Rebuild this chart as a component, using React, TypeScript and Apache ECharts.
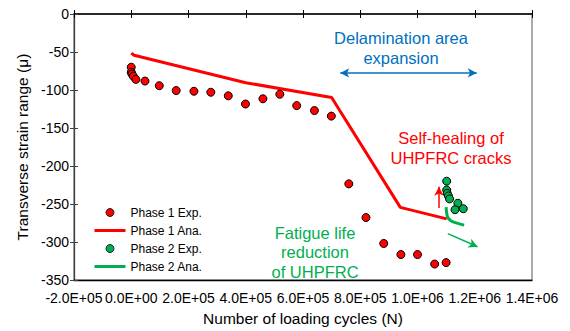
import React, { useEffect, useRef } from "react";
import * as echarts from "echarts";

const phase1ExpX = [0, 0, 2500, 7000, 16000, 48000, 98000, 157000, 219000, 278000, 339000, 399000, 460000, 519000, 578000, 640000, 699000, 760000, 820000, 882000, 942000, 1000000, 1060000, 1100000];
const phase1ExpY = [-70, -76.6, -78.8, -81.8, -86, -88.2, -94.3, -100.7, -101.6, -102.9, -107.6, -118.4, -111.5, -105.5, -120.5, -127, -134.3, -223.4, -267.7, -301.8, -316.4, -316.4, -328.9, -327];

const phase1AnaX = [0, 10000, 400000, 700000, 940000, 1102000];
const phase1AnaY = [-51.5, -54.2, -90.4, -109.8, -254.4, -269.5];

const phase2ExpX = [1102000, 1102000, 1104000, 1108000, 1112000, 1141000, 1160000, 1131000];
const phase2ExpY = [-219.9, -231.5, -235.9, -239.3, -243.2, -248.9, -256.1, -257.4];

const phase2AnaX = [1100000, 1104000, 1112000, 1122000, 1163000];
const phase2AnaY = [-254, -266, -270.5, -273, -277.7];

const xTicks = { min: -200000, max: 1400000, interval: 200000 };
const yTicks = { min: -350, max: 0, interval: 50 };

// annotation arrows (data coordinates)
const delamArrow = [[730000, -77.5], [1207000, -77.5]];
const healArrow = [[1075000, -255.3], [1075000, -227.3]];
const fatigueArrow = [[1106000, -288.9], [1210000, -306.1]];

const RED = "#FF0000";
const GREEN = "#00B050";
const BLUE = "#0070C0";
const FONT = "Liberation Sans, Arial, sans-serif";

const zip = (xs: number[], ys: number[]) => xs.map((x, i) => [x, ys[i]]);

const fmtSci = (v: number) => {
  const s = v.toExponential(1).toUpperCase();
  const m = s.match(/^(-?[\d.]+)E([+-])(\d+)$/);
  if (!m) return s;
  return `${m[1]}E${m[2]}${m[3].padStart(2, "0")}`;
};

const arrowLine = (pts: number[][], color: string, syms: string[]) => ({
  silent: true,
  symbol: syms,
  symbolSize: [7, 9],
  label: { show: false },
  lineStyle: { color, width: 1.5, type: "solid" },
  emphasis: { disabled: true },
  data: [[{ coord: pts[0] }, { coord: pts[1] }]],
});

const hiddenSymbol = { opacity: 0, borderWidth: 0, color: "rgba(0,0,0,0)", borderColor: "rgba(0,0,0,0)" };

export default function App() {
  const ref = useRef<HTMLDivElement>(null);
  useEffect(() => {
    if (!ref.current) return;
    const chart = echarts.init(ref.current, null, { renderer: "svg" });
    const baseX = {
      type: "value",
      min: xTicks.min,
      max: xTicks.max,
      interval: xTicks.interval,
      splitLine: { show: false },
    };
    const baseY = {
      type: "value",
      min: yTicks.min,
      max: yTicks.max,
      interval: yTicks.interval,
      splitLine: { show: false },
    };
    chart.setOption({
      animation: false,
      textStyle: { fontFamily: FONT },
      grid: {
        left: 74,
        top: 14,
        width: 458,
        height: 271,
        show: true,
        borderColor: "#555",
        borderWidth: 1,
      },
      xAxis: [
        {
          ...baseX,
          position: "bottom",
          axisLine: { show: true, onZero: false, lineStyle: { color: "#000", width: 1.3 } },
          axisTick: { show: false },
          axisLabel: { formatter: fmtSci, fontSize: 14, color: "#000", margin: 11, fontFamily: FONT },
          name: "Number of loading cycles (N)",
          nameLocation: "middle",
          nameGap: 29,
          nameTextStyle: { fontSize: 15.5, color: "#000", fontFamily: FONT },
        },
        {
          ...baseX,
          position: "top",
          axisLine: { show: true, onZero: false, lineStyle: { color: "#000", width: 1.6 } },
          axisTick: { show: true, inside: false, length: 4, lineStyle: { color: "#000", width: 1 } },
          axisLabel: { show: false },
        },
        {
          ...baseX,
          position: "top",
          axisLine: { show: false, onZero: false },
          axisTick: { show: true, inside: true, length: 4, lineStyle: { color: "#000", width: 1 } },
          axisLabel: { show: false },
        },
      ],
      yAxis: [
        {
          ...baseY,
          position: "left",
          axisLine: { show: true, onZero: false, lineStyle: { color: "#404040", width: 1.3 } },
          axisTick: { show: true, inside: false, length: 4, lineStyle: { color: "#404040", width: 1 } },
          axisLabel: { fontSize: 14, color: "#000", margin: 5, fontFamily: FONT },
          name: "Transverse strain range (μ)",
          nameLocation: "middle",
          nameRotate: 90,
          nameGap: 44,
          nameTextStyle: { fontSize: 15.5, color: "#000", fontFamily: FONT },
        },
        {
          ...baseY,
          position: "left",
          axisLine: { show: false, onZero: false },
          axisTick: { show: true, inside: true, length: 4, lineStyle: { color: "#404040", width: 1 } },
          axisLabel: { show: false },
        },
      ],
      legend: {
        orient: "vertical",
        left: 93,
        top: 206,
        itemWidth: 31,
        itemHeight: 8,
        itemGap: 5,
        padding: 0,
        itemStyle: { borderWidth: 0.8 },
        lineStyle: { width: 3 },
        textStyle: { fontSize: 12, color: "#000", lineHeight: 13, fontFamily: FONT },
        data: [
          { name: "Phase 1 Exp." },
          { name: "Phase 1 Ana.", itemStyle: hiddenSymbol },
          { name: "Phase 2 Exp." },
          { name: "Phase 2 Ana.", itemStyle: hiddenSymbol },
        ],
      },
      graphic: [
        {
          type: "text",
          x: 401,
          y: 48,
          style: {
            text: "Delamination area\nexpansion",
            fill: BLUE,
            fontSize: 16.5,
            fontFamily: FONT,
            align: "center",
            verticalAlign: "middle",
            lineHeight: 20,
          },
        },
        {
          type: "text",
          x: 451,
          y: 148,
          style: {
            text: "Self-healing of\nUHPFRC cracks",
            fill: RED,
            fontSize: 16.5,
            fontFamily: FONT,
            align: "center",
            verticalAlign: "middle",
            lineHeight: 20,
          },
        },
        {
          type: "text",
          x: 315,
          y: 252,
          style: {
            text: "Fatigue life\nreduction\nof UHPFRC",
            fill: GREEN,
            fontSize: 16.5,
            fontFamily: FONT,
            align: "center",
            verticalAlign: "middle",
            lineHeight: 19.5,
          },
        },
      ],
      series: [
        {
          name: "Phase 1 Ana.",
          type: "line",
          xAxisIndex: 0,
          yAxisIndex: 0,
          data: zip(phase1AnaX, phase1AnaY),
          symbol: "none",
          lineStyle: { color: RED, width: 3 },
          itemStyle: { color: RED },
          markLine: arrowLine(healArrow, RED, ["none", "arrow"]),
          z: 2,
        },
        {
          name: "Phase 2 Ana.",
          type: "line",
          xAxisIndex: 0,
          yAxisIndex: 0,
          data: zip(phase2AnaX, phase2AnaY),
          symbol: "none",
          smooth: 0.3,
          lineStyle: { color: GREEN, width: 3 },
          itemStyle: { color: GREEN },
          markLine: arrowLine(fatigueArrow, GREEN, ["none", "arrow"]),
          z: 2,
        },
        {
          name: "Phase 1 Exp.",
          type: "scatter",
          xAxisIndex: 0,
          yAxisIndex: 0,
          data: zip(phase1ExpX, phase1ExpY),
          symbol: "circle",
          symbolSize: 8,
          itemStyle: { color: RED, borderColor: "#000", borderWidth: 1, opacity: 1 },
          markLine: arrowLine(delamArrow, BLUE, ["arrow", "arrow"]),
          z: 3,
        },
        {
          name: "Phase 2 Exp.",
          type: "scatter",
          xAxisIndex: 0,
          yAxisIndex: 0,
          data: zip(phase2ExpX, phase2ExpY),
          symbol: "circle",
          symbolSize: 8,
          itemStyle: { color: GREEN, borderColor: "#000", borderWidth: 1, opacity: 1 },
          z: 3,
        },
      ],
    });
    return () => chart.dispose();
  }, []);
  return <div ref={ref} style={{ width: 570, height: 331, position: "absolute", left: 0, top: 0 }} />;
}
